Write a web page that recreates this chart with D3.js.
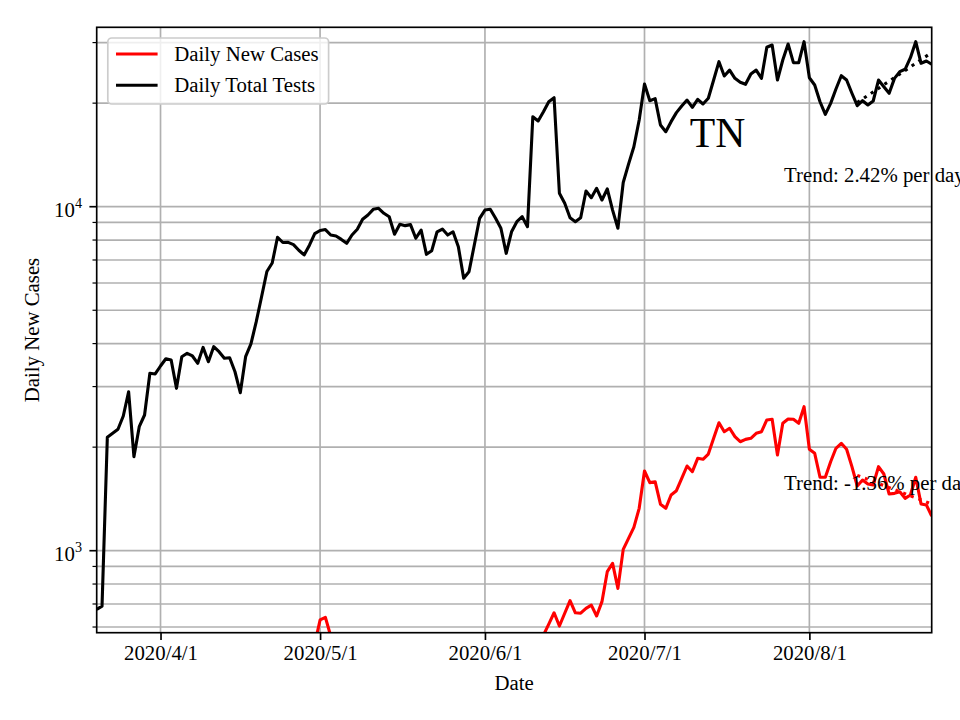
<!DOCTYPE html>
<html>
<head>
<meta charset="utf-8">
<script src="https://cdn.jsdelivr.net/npm/d3@7"></script>
<style>
  html, body { margin: 0; padding: 0; background: #fff; }
  svg { display: block; font-family: "Liberation Serif", "Times New Roman", serif; }
</style>
</head>
<body>
<svg id="chart" width="960" height="720"></svg>
<script>
// ---------------- data ----------------
const startDate = "2020-03-20";
const seriesNames = ["Daily New Cases", "Daily Total Tests"];
const seriesColors = ["#ff0000", "#000000"];

const dailyTests = [
  675, 690, 2136, 2194, 2254, 2464, 2898, 1876, 2294, 2480, 3280, 3265,
  3443, 3615, 3583, 2965, 3664, 3749, 3682, 3506, 3900, 3542, 3918, 3789, 3626, 3640, 3313, 2879, 3664, 3990,
  4632, 5472, 6480, 6860, 8150, 7870, 7880, 7760, 7470, 7240, 7730, 8350,
  8530, 8580, 8273, 8218, 8035, 7828, 8273, 8596, 9190, 9460, 9826, 9893, 9570, 9354, 8315, 8890,
  8810, 8870, 8095, 8554, 7270, 7450, 8455, 8610, 8273, 8455, 7652, 6194, 6471, 7740, 9253,
  9777, 9826, 9253, 8656, 7318, 8455, 9045, 9354, 8745, 18260, 17750, 18890, 20190, 20740, 10940,
  10230, 9290, 9045, 9290, 11110, 10620, 11310, 10460, 11260, 9777, 8656, 11760, 13300, 14940, 17870,
  22740, 20330, 20610, 17280, 16520, 17670, 18770, 19620, 20420, 19450, 20520, 19890, 20660, 23350, 26400,
  23990, 24950, 23610, 23000, 22690, 24310, 24950, 23610, 29070, 29510, 23350, 26700, 29720, 26220, 26220, 30180,
  23700, 22580, 20190, 18560, 19970, 21980, 24030, 23350, 21370, 19660, 20330, 19750, 20290, 23350, 22330,
  21370, 23610, 24690, 25090, 27110, 30180, 26120, 26520, 25940
];

const dailyCases = [
  40, 60, 125, 110, 160, 170, 250, 210, 180, 270, 230, 320,
  330, 290, 360, 380, 300, 250, 320, 200, 230, 340, 230, 210, 180, 220, 150, 300, 200, 310,
  160, 180, 200, 260, 280, 420, 470, 300, 230, 180, 420, 536,
  629, 640, 565, 400, 250, 360, 350, 300, 280, 230, 180, 280, 300, 280, 390, 300,
  250, 220, 360, 310, 330, 400, 360, 310, 250, 230, 300, 420, 390, 450, 320,
  380, 320, 360, 420, 460, 400, 350, 380, 320, 400, 480, 568, 612, 660, 604,
  658, 716, 660, 658, 680, 695, 646, 711, 869, 919, 777, 1009, 1086, 1169, 1328,
  1705, 1577, 1587, 1365, 1328, 1452, 1494, 1623, 1763, 1697, 1856, 1844, 1910, 2122, 2355,
  2218, 2269, 2145, 2074, 2107, 2122, 2194, 2218, 2399, 2410, 1897, 2346, 2415, 2410, 2346, 2622,
  1972, 1919, 1635, 1635, 1814, 1985, 2052, 1972, 1755, 1542, 1605, 1563, 1552, 1755, 1671,
  1461, 1468, 1484, 1420, 1452, 1635, 1367, 1358, 1261
];

// trend lines (fitted end values over the last days)
const trendDates = ["2020-08-10", "2020-08-24"];
const testsTrend = [20070, 28060];
const casesTrend = [1656, 1367];
const trendLabels = ["Trend: 2.42% per day", "Trend: -1.36% per day"];
const trendLabelAnchors = [11800, 1500];   // y-value where each label sits
const trendLabelDate = "2020-07-27T06:00:00";

const stateLabel = "TN";
const stateLabelAnchor = { date: "2020-07-09T12:00:00", value: 14900 };

const xTickDates = ["2020-04-01", "2020-05-01", "2020-06-01", "2020-07-01", "2020-08-01"];
const xTickLabels = ["2020/4/1", "2020/5/1", "2020/6/1", "2020/7/1", "2020/8/1"];
const yMajorTicks = [1000, 10000];
const yMajorExponents = ["3", "4"];
const yMinorTicks = [600, 700, 800, 900, 2000, 3000, 4000, 5000, 6000, 7000, 8000, 9000, 20000, 30000];
const yLimits = [577.6, 33230];
const xLabel = "Date";
const yLabel = "Daily New Cases";

// ---------------- layout ----------------
const parse = d3.timeParse("%Y-%m-%d");
const parseDT = d3.timeParse("%Y-%m-%dT%H:%M:%S");
const start = parse(startDate);
const dates = dailyTests.map((_, i) => d3.timeDay.offset(start, i));

const L = 96.7, R = 931.7, T = 27.3, B = 632.7;
const FS = 20.8;

const x = d3.scaleTime().domain([dates[0], dates[dates.length - 1]]).range([L, R]);
const y = d3.scaleLog().domain(yLimits).range([B, T]);

const svg = d3.select("#chart");
svg.append("rect").attr("width", 960).attr("height", 720).attr("fill", "#fff");

svg.append("defs").append("clipPath").attr("id", "plotclip")
  .append("rect").attr("x", L).attr("y", T).attr("width", R - L).attr("height", B - T);

// grid
const grid = svg.append("g").attr("stroke", "#b0b0b0").attr("stroke-width", 1.67);
grid.selectAll("line.h").data(yMajorTicks.concat(yMinorTicks)).join("line")
  .attr("x1", L).attr("x2", R).attr("y1", d => y(d)).attr("y2", d => y(d));
grid.selectAll("line.v").data(xTickDates.map(parse)).join("line")
  .attr("y1", T).attr("y2", B).attr("x1", d => x(d)).attr("x2", d => x(d));

// lines
const plot = svg.append("g").attr("clip-path", "url(#plotclip)");
const line = d3.line().x((d, i) => x(dates[i])).y(d => y(d));
const seriesData = [dailyCases, dailyTests];
seriesData.forEach((s, k) => {
  plot.append("path").datum(s).attr("d", line)
    .attr("fill", "none").attr("stroke", seriesColors[k]).attr("stroke-width", 3.1)
    .attr("stroke-linejoin", "round").attr("stroke-linecap", "butt");
});

// trends
const tDates = trendDates.map(parse);
const tline = d3.line().x((d, i) => x(tDates[i])).y(d => y(d));
[casesTrend, testsTrend].forEach((s, k) => {
  plot.append("path").datum(s).attr("d", tline)
    .attr("fill", "none").attr("stroke", seriesColors[k]).attr("stroke-width", 3.1)
    .attr("stroke-dasharray", "3.1,5.1").attr("stroke-linecap", "butt");
});

// text annotations
svg.append("text").attr("x", x(parseDT(stateLabelAnchor.date))).attr("y", y(stateLabelAnchor.value))
  .attr("font-size", 41.7).attr("fill", "#000").text(stateLabel);
trendLabelAnchors.forEach((v, k) => {
  svg.append("text").attr("x", x(parseDT(trendLabelDate))).attr("y", y(v))
    .attr("font-size", FS).attr("fill", "#000").text(trendLabels[k]);
});

// axes
const xAxis = d3.axisBottom(x).tickValues(xTickDates.map(parse))
  .tickFormat((d, i) => xTickLabels[i]).tickSize(7.3).tickPadding(5);
const gx = svg.append("g").attr("transform", `translate(0,${B})`).call(xAxis);
gx.select(".domain").remove();
gx.selectAll(".tick line").attr("stroke", "#000").attr("stroke-width", 1.67);
gx.selectAll(".tick text").attr("font-size", FS).attr("fill", "#000")
  .attr("font-family", "Liberation Serif").attr("dy", "0.71em");

const gy = svg.append("g");
gy.selectAll("line.minor").data(yMinorTicks).join("line")
  .attr("x1", L - 4.2).attr("x2", L).attr("y1", d => y(d)).attr("y2", d => y(d))
  .attr("stroke", "#000").attr("stroke-width", 1.2);
gy.selectAll("line.major").data(yMajorTicks).join("line")
  .attr("x1", L - 7.3).attr("x2", L).attr("y1", d => y(d)).attr("y2", d => y(d))
  .attr("stroke", "#000").attr("stroke-width", 1.67);
const ylab = gy.selectAll("text.major").data(yMajorTicks).join("text")
  .attr("x", 82).attr("y", d => y(d) + 10.3).attr("text-anchor", "end")
  .attr("font-size", FS).attr("fill", "#000");
ylab.append("tspan").text("10");
ylab.append("tspan").attr("dy", -9).attr("font-size", 14.2).text((d, i) => yMajorExponents[i]);

// spines
svg.append("rect").attr("x", L).attr("y", T).attr("width", R - L).attr("height", B - T)
  .attr("fill", "none").attr("stroke", "#000").attr("stroke-width", 1.67);

// axis labels
svg.append("text").attr("x", (L + R) / 2).attr("y", 690).attr("text-anchor", "middle")
  .attr("font-size", FS).attr("fill", "#000").text(xLabel);
svg.append("text").attr("transform", `translate(39,${(T + B) / 2}) rotate(-90)`)
  .attr("text-anchor", "middle").attr("font-size", FS).attr("fill", "#000").text(yLabel);

// legend
const lg = svg.append("g");
lg.append("rect").attr("x", 107.8).attr("y", 38).attr("width", 220.8).attr("height", 66)
  .attr("rx", 4).attr("fill", "#fff").attr("fill-opacity", 0.8)
  .attr("stroke", "#cccccc").attr("stroke-width", 1.67);
seriesNames.forEach((name, k) => {
  const cy = 54 + k * 31.2;
  lg.append("line").attr("x1", 116).attr("x2", 157.6).attr("y1", cy).attr("y2", cy)
    .attr("stroke", seriesColors[k]).attr("stroke-width", 3.1);
  lg.append("text").attr("x", 174.3).attr("y", cy + 7).attr("font-size", FS)
    .attr("fill", "#000").text(name);
});
</script>
</body>
</html>
